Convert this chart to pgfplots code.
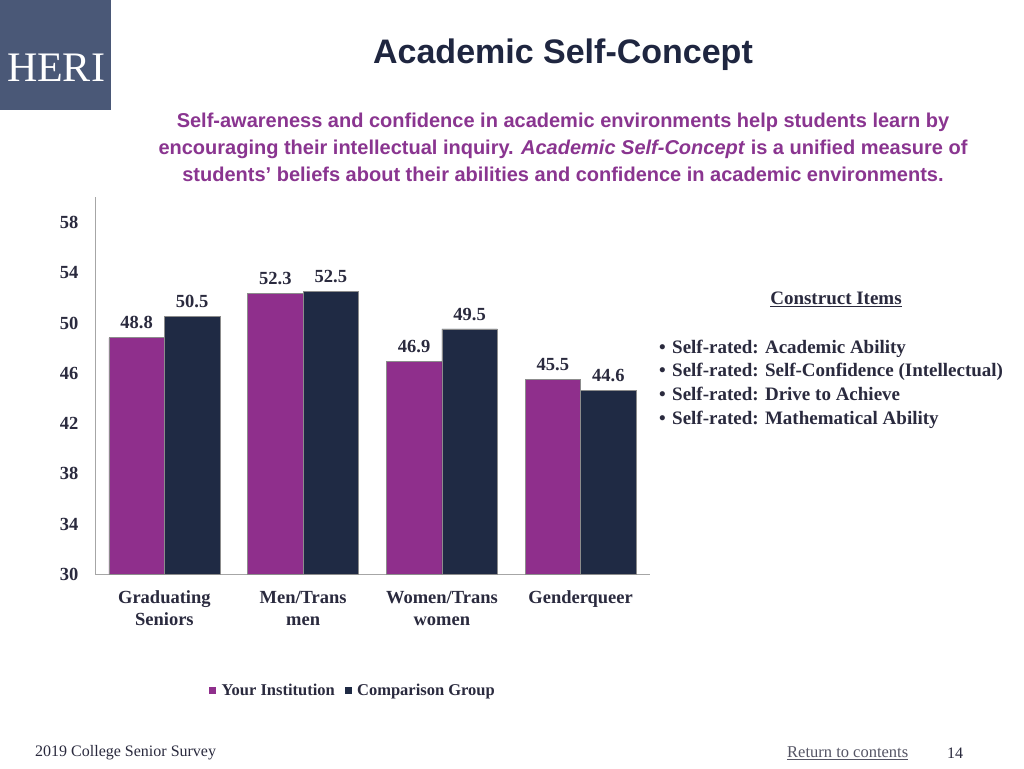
\documentclass[border=0pt]{standalone}
\usepackage{pgfplots}
\pgfplotsset{compat=1.18}
\usepackage{fontspec}
\setmainfont{Liberation Serif}
\newfontfamily\sansf{Liberation Sans}
\definecolor{logo}{HTML}{4A5877}
\definecolor{titlec}{HTML}{1F2640}
\definecolor{subc}{HTML}{8A3590}
\definecolor{barp}{HTML}{8F2F8C}
\definecolor{barn}{HTML}{1F2A44}
\definecolor{txt}{HTML}{2A2A3E}
\definecolor{axisgray}{HTML}{A6A6A6}
\begin{document}
\begin{tikzpicture}
\begin{scope}[x=1pt,y=-1pt]
\fill[white] (0,0) rectangle (1024,768);
\useasboundingbox (0,0) rectangle (1024,768);
\fill[logo] (0,0) rectangle (111,110);
\node[white, font=\fontsize{42}{42}\selectfont] at (56,68) {HERI};
\node[text=titlec, font=\sansf\bfseries\fontsize{34}{36}\selectfont] at (563,55) {Academic Self-Concept};
\node[text=subc, font=\sansf\bfseries\fontsize{20}{27}\selectfont, align=center] at (563,147)
 {Self-awareness and confidence in academic environments help students learn by\\
  encouraging their intellectual inquiry. \textit{Academic Self-Concept} is a unified measure of\\
  students’ beliefs about their abilities and confidence in academic environments.};
\node[text=txt, font=\bfseries\fontsize{19}{22}\selectfont] at (836,299) {\underline{Construct Items}};
\foreach \yy/\tt in {353/{Self-rated: Academic Ability},376/{Self-rated: Self-Confidence (Intellectual)},400/{Self-rated: Drive to Achieve},424/{Self-rated: Mathematical Ability}}{
  \node[text=txt, font=\bfseries\fontsize{19}{22}\selectfont, anchor=base west, inner sep=0pt] at (659,\yy) {\makebox[13pt][l]{\textbullet}\tt};
}
\node[text=txt, font=\fontsize{16}{18}\selectfont, anchor=west, inner sep=0pt] at (35,753) {2019 College Senior Survey};
\node[text=txt!80, font=\fontsize{16.5}{18}\selectfont, anchor=west, inner sep=0pt] at (787,753) {\underline{Return to contents}};
\node[text=txt, font=\fontsize{16}{18}\selectfont] at (955,753) {14};
\end{scope}
\begin{axis}[
  at={(95pt,-574pt)}, anchor=south west,
  scale only axis, width=555pt, height=377pt,
  ymin=30, ymax=60, xmin=-0.5, xmax=3.5,
  ybar=0pt, bar width=55.5pt,
  axis lines*=left,
  axis line style={draw=axisgray, line width=1pt, -},
  major tick length=0pt,
  ytick={30,34,...,58}, xtick={0,1,2,3},
  xticklabels={{Graduating\\Seniors},{Men/Trans\\men},{Women/Trans\\women},{Genderqueer}},
  typeset ticklabels with strut,
  tick label style={font=\bfseries\fontsize{18.5}{22}\selectfont, text=txt},
  xticklabel style={align=center, yshift=-11pt},
  yticklabel style={xshift=-13pt, yshift=-2pt},
  /pgf/number format/assume math mode=true,
  nodes near coords={\pgfmathprintnumber[fixed,fixed zerofill,precision=1]{\pgfplotspointmeta}},
  nodes near coords style={font=\bfseries\fontsize{18.5}{22}\selectfont, text=txt, anchor=south, yshift=5pt, /pgf/number format/assume math mode=true},
  legend style={at={(0.465,-0.308)}, anchor=center, draw=none, fill=none,
    font=\bfseries\fontsize{16.5}{18}\selectfont, text=txt,
    /tikz/every even column/.append style={column sep=8pt}},
  legend columns=2,
  legend image code/.code={\fill[#1,draw=none] (0pt,-3.5pt) rectangle (7pt,3.5pt); \path (10pt,0pt);},
]
\addplot[fill=barp, draw=black!45, line width=0.6pt] coordinates {(0,48.8) (1,52.3) (2,46.9) (3,45.5)};
\addplot[fill=barn, draw=black!45, line width=0.6pt] coordinates {(0,50.5) (1,52.5) (2,49.5) (3,44.6)};
\legend{Your Institution, Comparison Group}
\end{axis}
\end{tikzpicture}
\end{document}
